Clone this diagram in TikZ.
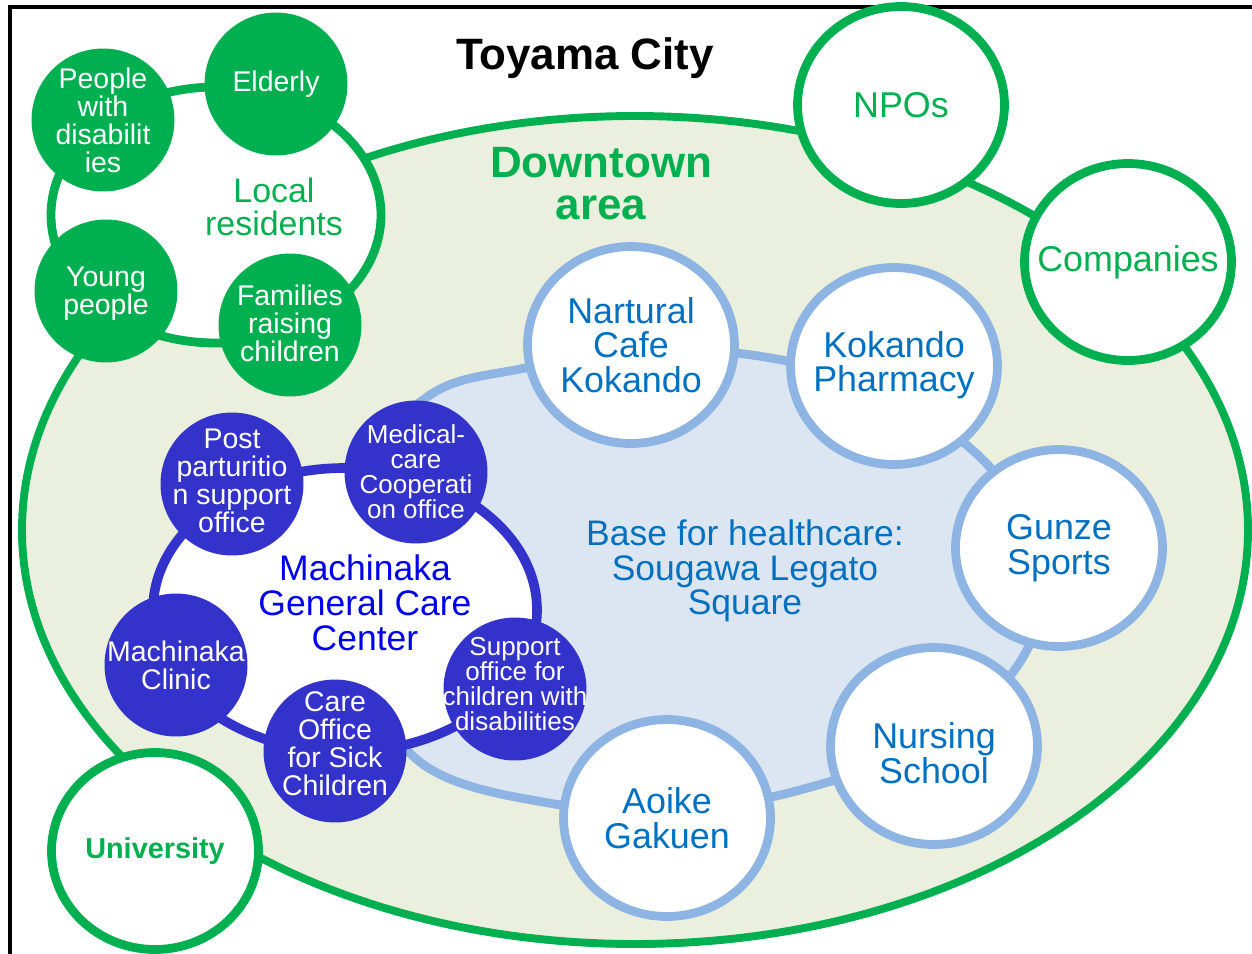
\documentclass[tikz,border=0pt]{standalone}
\usepackage{fontspec}
\setmainfont{Liberation Sans}
\usetikzlibrary{shapes.geometric}
\definecolor{gr}{RGB}{0,176,80}
\definecolor{olivebg}{RGB}{235,240,222}
\definecolor{bfill}{RGB}{220,230,242}
\definecolor{bstroke}{RGB}{142,180,227}
\definecolor{tblue}{RGB}{0,112,192}
\definecolor{dblue}{RGB}{51,51,204}
\definecolor{mblue}{RGB}{0,0,235}
\begin{document}
\begin{tikzpicture}[x=0.02cm,y=-0.02cm,
  fnt/.style n args={2}{font=\fontsize{#1}{#2}\selectfont},
  gcirc/.style={circle, fill=gr, inner sep=0pt, minimum size=2.86cm},
  dcirc/.style={circle, fill=dblue, inner sep=0pt, minimum size=2.86cm},
  wring/.style={ellipse, draw=gr, line width=5pt, fill=white, inner sep=0pt, minimum width=4.14cm, minimum height=3.94cm},
  bring/.style={ellipse, draw=bstroke, line width=5pt, fill=white, inner sep=0pt, minimum width=4.14cm, minimum height=3.94cm},
  lbl/.style={align=center, inner sep=0pt},
  gtxt/.style={lbl, text=white, fnt={16.2}{15.9}},
  dtxt/.style={lbl, text=white, fnt={14.8}{14.2}},
  btxt/.style={lbl, text=tblue, fnt={20.4}{19.8}},
  wtxt/.style={lbl, text=gr, fnt={20.4}{19.8}}
]
\useasboundingbox (0,0) rectangle (1252,954);
% frame
\draw[line width=2.7pt, line cap=rect] (10,960) -- (10,7) -- (1260,7);
% downtown area
\draw[line width=4.5pt, draw=gr, fill=olivebg] (635,530) ellipse [x radius=613, y radius=414];
% local residents ring
\draw[line width=5pt, draw=gr, fill=white] (216,215) ellipse [x radius=165, y radius=128];
% Sougawa Legato square area
\draw[line width=5pt, draw=bstroke, fill=bfill] plot[smooth cycle, tension=0.6] coordinates {
  (430,395) (525,368) (640,350) (765,357) (880,390) (985,462) (1045,560)
  (1020,662) (930,742) (800,790) (680,810) (560,805) (420,762) (350,640) (360,480)};
% Machinaka ring
\draw[line width=5.5pt, draw=dblue, fill=white] (345,610) ellipse [x radius=192, y radius=142];

% green circles
\node[gcirc] (pwd) at (103,120) {};
\node[gcirc] (eld) at (276,84) {};
\node[gcirc] (yng) at (106,291) {};
\node[gcirc] (fam) at (290,325) {};
\node[gtxt] (pwd-t) at (pwd.center) {People\\with\\disabilit\\ies};
\node[gtxt] (eld-t) at (eld.center) {Elderly};
\node[gtxt] (yng-t) at ([yshift=-1.5pt]yng.center) {Young\\people};
\node[gtxt] (fam-t) at ([yshift=1pt]fam.center) {Families\\raising\\children};

% outer white circles
\node[wring] (npo) at (901,105) {};
\node[wring] (com) at (1128,262) {};
\node[wring] (uni) at (155,851) {};
\node[wtxt] (npo-t) at (npo.center) {NPOs};
\node[wtxt] (com-t) at (com.center) {Companies};
\node[lbl, text=gr, font=\bfseries\fontsize{16.4}{16}\selectfont] (uni-t) at (uni.center) {University};

% blue circles
\node[bring] (cafe) at (631,345) {};
\node[bring] (pha) at (894,366) {};
\node[bring] (gun) at (1059,548) {};
\node[bring] (nur) at (934,746) {};
\node[bring] (aoi) at (667,818) {};
\node[btxt] (cafe-t) at (cafe.center) {Nartural\\Cafe\\Kokando};
\node[btxt] (pha-t) at ([yshift=0.5pt]pha.center) {Kokando\\Pharmacy};
\node[btxt] (gun-t) at (gun.center) {Gunze\\Sports};
\node[btxt] (nur-t) at ([yshift=-4pt]nur.center) {Nursing\\School};
\node[btxt] (aoi-t) at (aoi.center) {Aoike\\Gakuen};

% dark blue circles
\node[dcirc] (post) at (232,484) {};
\node[dcirc] (med) at (416,472) {};
\node[dcirc] (sup) at (515,689) {};
\node[dcirc] (care) at (335,751) {};
\node[dcirc] (cli) at (176,665) {};
\node[dtxt, fnt={16.2}{15.9}] (post-t) at ([yshift=2pt]post.center) {Post\\parturitio\\n support\\office};
\node[dtxt] (med-t) at (med.center) {Medical-\\care\\Cooperati\\on office};
\node[dtxt] (sup-t) at ([yshift=3pt]sup.center) {Support\\office for\\children with\\disabilities};
\node[dtxt, fnt={16.2}{15.9}] (care-t) at ([yshift=4pt]care.center) {Care\\Office\\for Sick\\Children};
\node[dtxt, fnt={16.2}{15.9}] (cli-t) at (cli.center) {Machinaka\\Clinic};

% labels
\node[lbl, font=\bfseries\fontsize{25}{26}\selectfont] (toy) at (585,58) {Toyama City};
\node[lbl, text=gr, font=\bfseries\fontsize{25}{23.8}\selectfont] (dt) at (601,184) {Downtown\\area};
\node[lbl, text=gr, fnt={19.3}{18.7}] (loc) at (274,207) {Local\\residents};
\node[lbl, text=tblue, fnt={20.2}{19.8}] (base) at (745,571) {Base for healthcare:\\Sougawa Legato\\Square};
\node[lbl, text=mblue, fnt={20.2}{19.8}] (mgc) at (365,603) {Machinaka\\General Care\\Center};
\end{tikzpicture}
\end{document}
